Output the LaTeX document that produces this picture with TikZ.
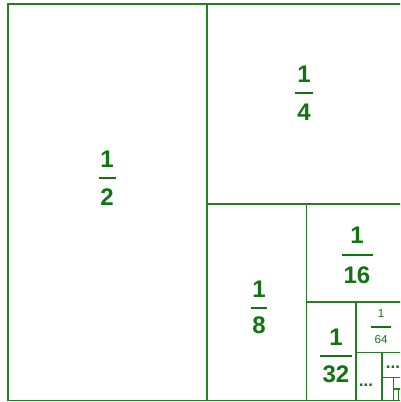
\documentclass[tikz,border=0pt]{standalone}
\usepackage{fontspec}
\setmainfont{Liberation Sans}
\definecolor{lineg}{RGB}{34,128,34}
\definecolor{textg}{RGB}{18,115,18}
\tikzset{
  grid line/.style={draw=lineg, line width=1.6pt},
  bignum/.style={inner sep=0pt, text=textg, font=\fontsize{24}{24}\selectfont\bfseries},
  smallnum/.style={inner sep=0pt, text=textg, font=\fontsize{11.5}{11.5}\selectfont},
  dotsnode/.style={inner sep=0pt, text=textg, font=\fontsize{17}{17}\selectfont\bfseries},
  fracbar/.style={fill=textg, inner sep=0pt, draw=none, rectangle},
}
% #1 name, #2 x, #3 num y, #4 bar y, #5 den y, #6 num, #7 den, #8 bar width, #9 style
\newcommand\myfraction[9]{%
  \node[#9] (#1n) at (#2,#3) {#6};
  \node[fracbar, minimum width=#8pt, minimum height=2.4pt] (#1b) at (#2,#4) {};
  \node[#9] (#1d) at (#2,#5) {#7};
}
\begin{document}
\begin{tikzpicture}[x=1pt,y=-1pt]
\useasboundingbox (0,0) rectangle (400,402);
\fill[white] (0,0) rectangle (400,402);
\begin{scope}
\clip (0,0) rectangle (400,402);
\draw[grid line] (8,4) rectangle (406,400.5);
\draw[grid line] (207,4) -- (207,400.5);
\draw[grid line] (207,204) -- (406,204);
\draw[grid line] (306.5,204) -- (306.5,400.5);
\draw[grid line] (306.5,302) -- (406,302);
\draw[grid line] (356,302) -- (356,400.5);
\draw[grid line] (356,352.5) -- (406,352.5);
\draw[grid line] (382,352.5) -- (382,400.5);
\draw[grid line] (382,377.5) -- (406,377.5);
\draw[grid line] (393.5,377.5) -- (393.5,400.5);
\draw[grid line] (393.5,389) -- (406,389);
\draw[grid line] (398.5,389) -- (398.5,400.5);
\end{scope}
\myfraction{half}{107}{159}{178}{197}{1}{2}{17}{bignum}
\myfraction{quarter}{304}{74}{93}{112.5}{1}{4}{18}{bignum}
\myfraction{eighth}{259}{289.5}{308}{325.5}{1}{8}{16}{bignum}
\myfraction{sixteenth}{357}{235.5}{255}{275}{1}{16}{31}{bignum}
\myfraction{thirtysecond}{336}{337.5}{356}{374.5}{1}{32}{32}{bignum}
\node[smallnum] (sfn) at (381,314) {1};
\node[fracbar, minimum width=20pt, minimum height=1.1pt] (sfb) at (381,327) {};
\node[smallnum] (sfd) at (381,340) {64};
\node[dotsnode, anchor=base] (dotsA) at (366,386.5) {...};
\node[dotsnode, anchor=base] (dotsB) at (393,368.5) {...};
\end{tikzpicture}
\end{document}
